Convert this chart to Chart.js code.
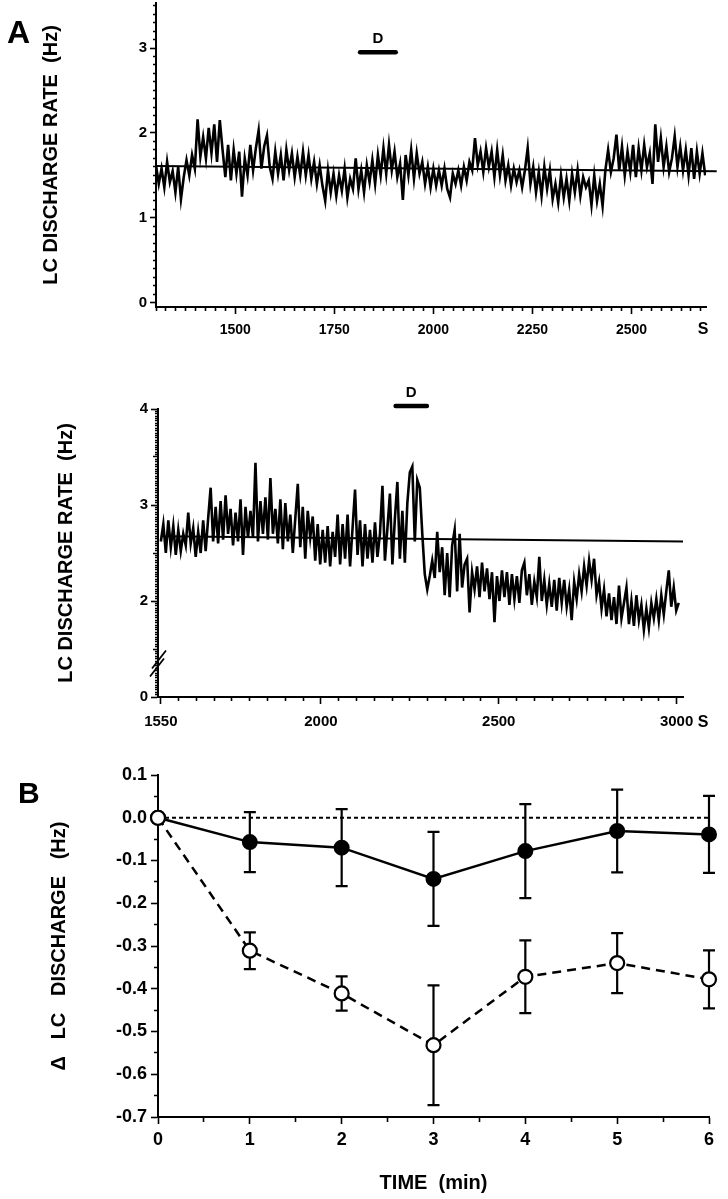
<!DOCTYPE html>
<html>
<head>
<meta charset="utf-8">
<script src="https://cdn.jsdelivr.net/npm/chart.js@4.4.1/dist/chart.umd.min.js"></script>
<style>
  html, body { margin: 0; padding: 0; background: #fff; }
  body { width: 728px; height: 1199px; position: relative; overflow: hidden; }
  canvas { position: absolute; left: 0; }
</style>
</head>
<body>
<canvas id="traceTop" width="728" height="354" style="top:-9px"></canvas>
<canvas id="traceBottom" width="728" height="390" style="top:370px"></canvas>
<canvas id="summary" width="728" height="439" style="top:760px"></canvas>
<script>
// ---- Panel A, upper record: LC rate (Hz), 7 s bins from 1300 s ----
const topTraceStart = 1300;
const topTraceBin = 7;
const topTrace = [
  1.62, 1.40, 1.58, 1.36, 1.66, 1.42,  1.55, 1.30, 1.60, 1.22, 1.48, 1.68,
  1.50, 1.74, 1.58, 2.16, 1.72, 1.95,  1.70, 2.06, 1.76, 2.10, 1.66, 2.15,
  1.80, 1.48, 1.86, 1.44, 1.80, 1.52,  1.78, 1.25, 1.70, 1.50, 1.86, 1.56,
  1.82, 2.03, 1.58, 1.84, 1.97, 1.60,  1.46, 1.78, 1.52, 1.74, 1.44, 1.80,
  1.56, 1.76, 1.48, 1.72, 1.50, 1.78,  1.50, 1.74, 1.46, 1.66, 1.40, 1.62,
  1.38, 1.20, 1.56, 1.30, 1.52, 1.26,  1.50, 1.32, 1.58, 1.24, 1.46, 1.34,
  1.70, 1.34, 1.56, 1.30, 1.62, 1.42,  1.68, 1.40, 1.74, 1.50, 1.82, 1.52,
  1.86, 1.56, 1.78, 1.48, 1.64, 1.21,  1.74, 1.50, 1.80, 1.46, 1.76, 1.52,
  1.66, 1.40, 1.60, 1.36, 1.58, 1.38,  1.56, 1.38, 1.58, 1.34, 1.24, 1.52,
  1.40, 1.56, 1.38, 1.60, 1.44, 1.66,  1.56, 1.94, 1.62, 1.78, 1.54, 1.82,
  1.60, 1.78, 1.48, 1.80, 1.50, 1.74,  1.44, 1.62, 1.38, 1.58, 1.42, 1.56,
  1.36, 1.56, 1.82, 1.40, 1.60, 1.30,  1.54, 1.26, 1.60, 1.34, 1.56, 1.22,
  1.40, 1.18, 1.50, 1.24, 1.46, 1.20,  1.52, 1.30, 1.56, 1.26, 1.48, 1.36,
  1.44, 1.15, 1.50, 1.20, 1.40, 1.14,  1.56, 1.80, 1.54, 1.70, 1.98, 1.56,
  1.84, 1.50, 1.78, 1.54, 1.86, 1.48,  1.82, 1.56, 1.86, 1.60, 1.76, 1.40,
  2.10, 1.66, 1.94, 1.60, 1.84, 1.54,  1.70, 1.96, 1.60, 1.84, 1.56, 1.80,
  1.50, 1.82, 1.46, 1.78, 1.52, 1.76,  1.50
];
const topBaselineTimes = [1300, 2715];
const topBaselineRates = [1.61, 1.55];
const topDrugTimes = [1815, 1905];
const topDrugLevel = 2.95;

// ---- Panel A, lower record: LC rate (Hz), 7 s bins from 1550 s ----
const lowTraceStart = 1550;
const lowTraceBin = 7;
const lowTrace = [
  2.62, 2.80, 2.50, 2.84, 2.56, 2.78,  2.48, 2.74, 2.52, 2.70, 2.58, 2.92,
  2.60, 2.76, 2.46, 2.72, 2.50, 2.84,  2.52, 2.86, 3.18, 2.62, 2.98, 2.60,
  3.04, 2.64, 3.10, 2.70, 2.96, 2.58,  2.92, 2.62, 3.06, 2.48, 2.98, 2.66,
  2.94, 2.66, 3.44, 2.62, 3.04, 2.70,  3.08, 2.64, 3.28, 2.70, 2.96, 2.60,
  3.06, 2.54, 3.02, 2.62, 2.90, 2.50,  2.86, 3.22, 2.56, 2.98, 2.44, 2.94,
  2.66, 2.88, 2.42, 2.80, 2.38, 2.74,  2.40, 2.78, 2.36, 2.72, 2.46, 2.90,
  2.38, 2.80, 2.44, 2.90, 2.36, 2.76,  3.16, 2.48, 2.84, 2.36, 2.80, 2.44,
  2.74, 2.40, 2.82, 2.46, 2.70, 3.20,  2.42, 2.76, 3.12, 2.38, 2.86, 3.24,
  2.44, 2.94, 2.40, 3.02, 3.34, 3.40,  2.62, 3.26, 3.18, 2.70, 2.28, 2.12,
  2.26, 2.42, 2.24, 2.72, 2.30, 2.56,  2.06, 2.50, 2.04, 2.58, 2.74, 2.10,
  2.70, 2.14, 2.38, 2.44, 1.88, 2.30,  2.12, 2.36, 2.04, 2.40, 2.10, 2.34,
  2.02, 2.30, 1.78, 2.26, 2.00, 2.32,  2.04, 2.30, 1.96, 2.28, 2.02, 2.26,
  1.98, 2.32, 2.40, 2.06, 2.28, 1.96,  2.20, 2.04, 2.46, 2.00, 2.22, 1.96,
  2.18, 1.94, 2.22, 1.90, 2.24, 1.98,  2.22, 1.94, 2.12, 1.80, 2.20, 2.02,
  2.28, 2.10, 2.36, 2.16, 2.42, 2.22,  2.44, 2.06, 2.20, 1.92, 2.12, 1.84,
  2.08, 1.80, 2.04, 1.76, 2.16, 1.82,  1.98, 2.14, 1.76, 2.00, 1.74, 2.06,
  1.80, 1.96, 1.70, 1.92, 1.72, 1.98,  1.82, 2.02, 1.80, 2.06, 1.86, 2.10,
  2.32, 1.94, 2.14, 1.90, 1.98
];
const lowBaselineTimes = [1550, 3018];
const lowBaselineRates = [2.675, 2.62];
const lowDrugTimes = [2210, 2298];
const lowDrugLevel = 4.03;

// ---- Panel B: change in LC discharge (Hz) vs time (min) ----
const timeMin = [0, 1, 2, 3, 4, 5, 6];
const controlMean = [0, -0.057, -0.070, -0.143, -0.078, -0.031, -0.039];
const controlSem = [0, 0.070, 0.090, 0.110, 0.110, 0.097, 0.090];
const drugMean = [0, -0.311, -0.411, -0.532, -0.372, -0.340, -0.378];
const drugSem = [0, 0.043, 0.040, 0.140, 0.085, 0.070, 0.068];
const zeroLine = [0, 0, 0, 0, 0, 0, 0];

const FONT = '"Liberation Sans", Arial, Helvetica, sans-serif';
Chart.defaults.font.family = FONT;
Chart.defaults.font.weight = 'bold';
Chart.defaults.color = '#000';

function near(v, step) {
  const q = v / step;
  return Math.abs(q - Math.round(q)) < 1e-6;
}

// tick marks only (no grid); shorter minor ticks via a dash pattern
function tickGrid(full, lenOf, side) {
  return {
    display: true,
    drawOnChartArea: false,
    drawTicks: true,
    tickLength: full,
    tickWidth: 1.6,
    tickColor: '#000',
    tickBorderDash: (c) => {
      const len = c.tick ? lenOf(c.tick.value) : full;
      if (len >= full) return [];
      return side === 'left' ? [0, full - len, len, 300] : [len, 300];
    }
  };
}

const axisBorder = { display: true, color: '#000', width: 2 };

function series(xs, ys, extra) {
  return Object.assign({
    data: xs.map((x, i) => ({ x: x, y: ys[i] })),
    borderColor: '#000',
    borderWidth: 2,
    pointRadius: 0,
    tension: 0,
    fill: false
  }, extra || {});
}

function binTimes(start, bin, n) {
  return Array.from({ length: n }, (_, i) => start + i * bin);
}

function labelDrug(chart, times, level) {
  const { ctx, scales: { x, y } } = chart;
  ctx.save();
  ctx.font = 'bold 15px ' + FONT;
  ctx.fillStyle = '#000';
  ctx.textAlign = 'center';
  ctx.textBaseline = 'alphabetic';
  ctx.fillText('D', x.getPixelForValue((times[0] + times[1]) / 2), y.getPixelForValue(level) - 9);
  ctx.restore();
}

function unitS(chart, dy) {
  const { ctx, scales: { x } } = chart;
  ctx.save();
  ctx.font = 'bold 16px ' + FONT;
  ctx.fillStyle = '#000';
  ctx.textAlign = 'center';
  ctx.textBaseline = 'middle';
  ctx.fillText('S', 703, x.top + dy);
  ctx.restore();
}

const baseOptions = {
  responsive: false,
  animation: false,
  devicePixelRatio: 1,
  plugins: { legend: { display: false }, tooltip: { enabled: false } }
};

// ---------- A, upper ----------
new Chart(document.getElementById('traceTop'), {
  type: 'line',
  data: {
    datasets: [
      series(binTimes(topTraceStart, topTraceBin, topTrace.length), topTrace, { borderWidth: 2.6 }),
      series(topBaselineTimes, topBaselineRates, { clip: false }),
      series(topDrugTimes, [topDrugLevel, topDrugLevel], { borderWidth: 4.5, borderCapStyle: 'round', clip: false })
    ]
  },
  options: Object.assign({}, baseOptions, {
    layout: { padding: { left: 39, right: 22, top: 3, bottom: 8 } },
    scales: {
      x: {
        type: 'linear', min: 1300, max: 2688,
        afterFit: (s) => { s.height = 30; },
        border: axisBorder,
        grid: tickGrid(7, (v) => near(v, 250) ? 7 : 3, 'bottom'),
        ticks: {
          stepSize: 25, includeBounds: false, autoSkip: false, maxRotation: 0, padding: 8,
          font: { size: 14 },
          callback: (v) => near(v, 250) ? String(v) : ''
        }
      },
      y: {
        min: -0.05, max: 3.53,
        afterFit: (s) => { s.width = 117; },
        border: axisBorder,
        grid: tickGrid(6, (v) => near(v, 1) ? 6 : 3, 'left'),
        ticks: {
          stepSize: 0.1, includeBounds: false, autoSkip: false, padding: 3,
          font: { size: 15 },
          callback: (v) => near(v, 1) ? String(Math.round(v)) : ''
        },
        title: { display: true, text: 'LC DISCHARGE RATE  (Hz)', font: { size: 20, weight: 'bold' }, padding: 0 }
      }
    }
  }),
  plugins: [{
    id: 'topDecor',
    afterDraw(chart) {
      const ctx = chart.ctx;
      ctx.save();
      ctx.font = 'bold 32px ' + FONT;
      ctx.fillStyle = '#000';
      ctx.fillText('A', 7, 52);
      ctx.restore();
      labelDrug(chart, topDrugTimes, topDrugLevel);
      unitS(chart, 23);
    }
  }]
});

// ---------- A, lower (axis broken between 0 and 1.5 Hz) ----------
new Chart(document.getElementById('traceBottom'), {
  type: 'line',
  data: {
    datasets: [
      series(binTimes(lowTraceStart, lowTraceBin, lowTrace.length), lowTrace, { borderWidth: 2.6 }),
      series(lowBaselineTimes, lowBaselineRates, { clip: false }),
      series(lowDrugTimes, [lowDrugLevel, lowDrugLevel], { borderWidth: 4.5, borderCapStyle: 'round', clip: false })
    ]
  },
  options: Object.assign({}, baseOptions, {
    layout: { padding: { left: 54, right: 45, top: 39, bottom: 23 } },
    scales: {
      x: {
        type: 'linear', min: 1542, max: 3018,
        afterFit: (s) => { s.height = 40; },
        border: axisBorder,
        grid: tickGrid(7, (v) => (near(v, 500) || v === 1550) ? 7 : 3, 'bottom'),
        ticks: {
          stepSize: 50, includeBounds: false, autoSkip: false, maxRotation: 0, padding: 9,
          font: { size: 15 },
          callback: (v) => (near(v, 500) || v === 1550) ? String(v) : ''
        }
      },
      y: {
        min: 1, max: 4,
        afterFit: (s) => { s.width = 104; },
        border: axisBorder,
        grid: tickGrid(7, (v) => near(v, 1) ? 7 : (near(v, 0.5) ? 5 : 3), 'left'),
        ticks: {
          stepSize: 0.025, includeBounds: false, autoSkip: false, padding: 3,
          font: { size: 15 },
          callback: (v) => Math.abs(v - 1) < 1e-6 ? '0' : (near(v, 1) ? String(Math.round(v)) : '')
        },
        title: { display: true, text: 'LC DISCHARGE RATE  (Hz)', font: { size: 20, weight: 'bold' }, padding: 0 }
      }
    }
  }),
  plugins: [{
    id: 'lowDecor',
    afterDraw(chart) {
      const { ctx, scales: { x, y } } = chart;
      // axis break marks
      const ax = x.left;
      const yc = y.getPixelForValue(1.36);
      ctx.save();
      ctx.strokeStyle = '#000';
      ctx.lineWidth = 1.8;
      ctx.beginPath();
      ctx.moveTo(ax - 6, yc + 6); ctx.lineTo(ax + 8, yc - 12);
      ctx.moveTo(ax - 8, yc + 14); ctx.lineTo(ax + 6, yc - 4);
      ctx.stroke();
      ctx.restore();
      labelDrug(chart, lowDrugTimes, lowDrugLevel);
      unitS(chart, 26);
    }
  }]
});

// ---------- B ----------
const errorBars = {
  id: 'errorBars',
  beforeDatasetsDraw(chart) {
    const { ctx, scales: { x, y } } = chart;
    ctx.save();
    ctx.strokeStyle = '#000';
    ctx.lineWidth = 2.2;
    [[controlMean, controlSem], [drugMean, drugSem]].forEach(([m, s]) => {
      timeMin.forEach((t, i) => {
        if (!s[i]) return;
        const px = x.getPixelForValue(t);
        const hi = y.getPixelForValue(m[i] + s[i]);
        const lo = y.getPixelForValue(m[i] - s[i]);
        ctx.beginPath();
        ctx.moveTo(px, hi); ctx.lineTo(px, lo);
        ctx.moveTo(px - 6, hi); ctx.lineTo(px + 6, hi);
        ctx.moveTo(px - 6, lo); ctx.lineTo(px + 6, lo);
        ctx.stroke();
      });
    });
    ctx.restore();
  },
  afterDraw(chart) {
    const ctx = chart.ctx;
    ctx.save();
    ctx.font = 'bold 30px ' + FONT;
    ctx.fillStyle = '#000';
    ctx.fillText('B', 18, 43);
    ctx.restore();
  }
};

new Chart(document.getElementById('summary'), {
  type: 'line',
  data: {
    datasets: [
      series(timeMin, drugMean, {
        borderWidth: 2.5, borderDash: [9, 6], pointRadius: 7, pointBorderWidth: 2.2,
        pointBackgroundColor: '#fff', pointBorderColor: '#000', clip: false
      }),
      series(timeMin, controlMean, {
        borderWidth: 2.5, pointRadius: 7, pointBorderWidth: 2,
        pointBackgroundColor: '#000', pointBorderColor: '#000', clip: false
      }),
      series(timeMin, zeroLine, { borderWidth: 2, borderDash: [4, 3], clip: false })
    ]
  },
  options: Object.assign({}, baseOptions, {
    layout: { padding: { left: 47, right: 19, top: 15, bottom: 4 } },
    scales: {
      x: {
        type: 'linear', min: 0, max: 6,
        afterFit: (s) => { s.height = 78; },
        border: axisBorder,
        grid: tickGrid(7, (v) => near(v, 1) ? 7 : 4, 'bottom'),
        ticks: {
          stepSize: 0.5, autoSkip: false, maxRotation: 0, padding: 5,
          font: { size: 18 },
          callback: (v) => near(v, 1) ? String(Math.round(v)) : ''
        },
        title: { display: true, text: 'TIME  (min)', font: { size: 20, weight: 'bold' }, padding: 0 }
      },
      y: {
        min: -0.7, max: 0.1,
        afterFit: (s) => { s.width = 111; },
        border: axisBorder,
        grid: tickGrid(7, (v) => near(v, 0.1) ? 7 : 4, 'left'),
        ticks: {
          stepSize: 0.05, autoSkip: false, padding: 4,
          font: { size: 18 },
          callback: (v) => near(v, 0.1) ? (Math.abs(v) < 1e-9 ? '0.0' : v.toFixed(1)) : ''
        },
        title: { display: true, text: '\u0394   LC   DISCHARGE   (Hz)', font: { size: 20, weight: 'bold' }, padding: 0 }
      }
    }
  }),
  plugins: [errorBars]
});
</script>
</body>
</html>
